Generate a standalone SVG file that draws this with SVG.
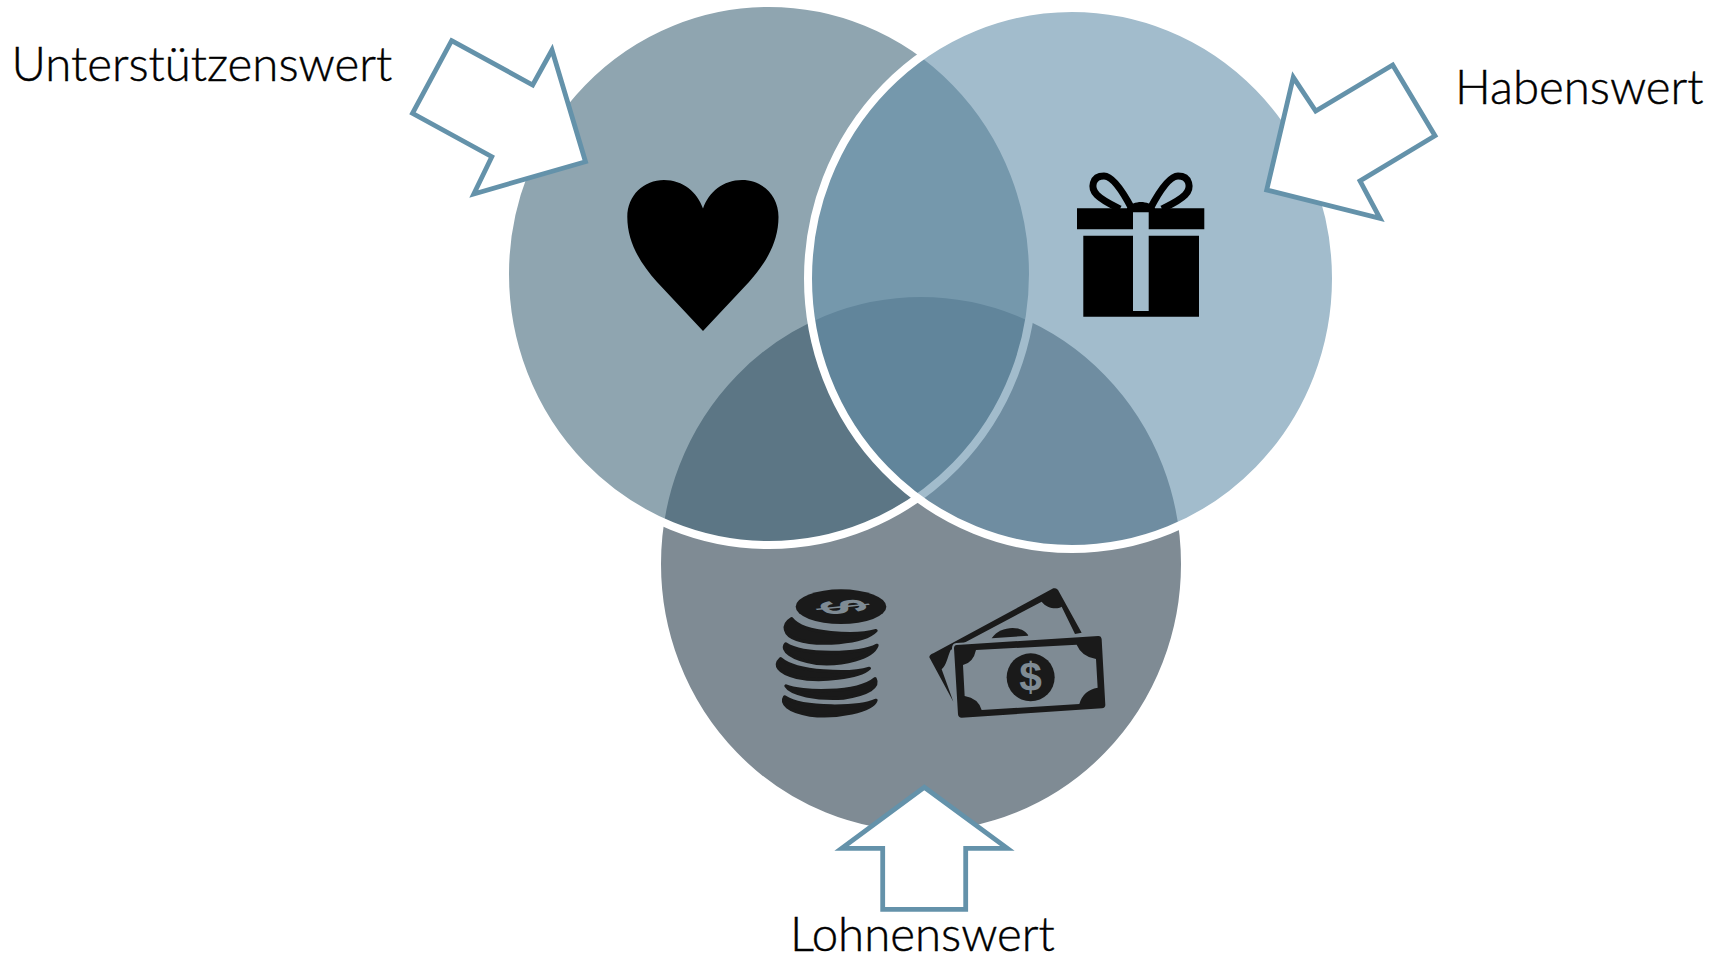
<svg xmlns="http://www.w3.org/2000/svg" width="1719" height="955" viewBox="0 0 1719 955">
<style>
.lbl{font-family:"Lato","Liberation Sans",sans-serif;font-weight:300;font-size:47.400px;fill:#000;stroke:#000;stroke-width:.45}
.arrow{fill:#fff;stroke:#6492aa;stroke-width:4.800;stroke-miterlimit:10}
.circ{stroke:#fff;stroke-width:8}
.ink{fill:#1a1a1a}
.coin{fill:#1a1a1a;stroke:#1a1a1a;stroke-width:10;stroke-linejoin:round}
.sym{font-family:"Liberation Sans",sans-serif;font-weight:700;fill:#7f8b94;text-anchor:middle}
</style>
<rect width="1719" height="955" fill="#fff"/>
<g id="circle-lohnen"><ellipse class="circ" cx="921" cy="564" rx="264" ry="271" fill="#7f8b94"/></g>
<g id="circle-unterstuetzen"><ellipse class="circ" cx="769" cy="274" rx="264" ry="271" fill="#44697b" fill-opacity="0.6"/></g>
<g id="circle-haben"><ellipse class="circ" cx="1072" cy="278.500" rx="264" ry="270.500" fill="#648faa" fill-opacity="0.6"/></g>
<g id="icon-heart"><path d="M703 331L657 282C641 264 627.300 243 627.300 217C627.300 195 644 180 664 180C683 180 697 192 703 208.500C709 192 723 180 742 180C762 180 778.500 195 778.500 217C778.500 243 765 264 749 282Z" fill="#000"/></g>
<g id="icon-gift">
<path d="M1077 208.300H1127C1130 204 1136 202 1141 202C1146 202 1152 204 1155 208.300H1204.300V229.300H1148.700V212.300H1133V229.300H1077ZM1083.300 235.700H1133V311H1148.700V235.700H1199V316.700H1083.300Z" fill="#000"/>
<path d="M1132 209C1122 190 1112 176 1104 176C1092 176 1090 188 1097 195C1103 201 1114 206 1120 209M1150 209C1160 190 1170 176 1178 176C1190 176 1192 188 1185 195C1179 201 1168 206 1162 209" fill="none" stroke="#000" stroke-width="7"/>
</g>
<g id="icon-coins" transform="translate(760 570) scale(.33333)">
<ellipse class="ink" cx="243" cy="110" rx="136" ry="52"/>
<text class="sym" transform="translate(247 110) scale(1.650 .6) rotate(75)" x="0" y="40" font-size="122">$</text>
<path class="coin" d="M95 146C64 165 72 195 110 208C170 228 310 222 348 182C290 198 130 193 95 146Z"/>
<path class="coin" d="M77 222C62 240 92 268 170 280C250 287 338 263 351 226C300 253 130 258 77 222Z"/>
<path class="coin" d="M62 266C42 285 52 308 110 322C180 337 298 323 328 295C270 313 110 308 62 266Z"/>
<path class="coin" d="M78 348C120 367 290 372 345 326C358 350 328 372 250 384C170 389 92 373 78 348Z"/>
<path class="coin" d="M74 381C62 400 82 423 150 435C230 445 338 423 348 391C300 413 130 418 74 381Z"/>
</g>
<g id="icon-cash" transform="translate(760 570) scale(.33333)">
<path class="ink" d="M520 250L880 55Q892 52 897 65L965 188L945 192L905 110C890 120 860 115 845 95L572 240C562 262 560 285 545 298L580 395L508 262Q508 254 520 250Z"/>
<path class="ink" d="M695 205C720 165 790 165 805 197Z"/>
<path d="M590 225L1015 198Q1024 198 1025 208L1036 405Q1036 414 1026 415L605 443Q595 443 594 433L582 235Q582 226 590 225Z" fill="#7f8b94" stroke="#7f8b94" stroke-width="12"/>
<path class="ink" fill-rule="evenodd" d="M590 225L1015 198Q1024 198 1025 208L1036 405Q1036 414 1026 415L605 443Q595 443 594 433L582 235Q582 226 590 225ZM609 285Q640 278 648 240L950 224Q965 260 1008 267L1013 353Q970 360 958 402L665 420Q655 385 614 378Z"/>
<circle class="ink" cx="812" cy="322" r="72"/>
<text class="sym" x="812" y="362" font-size="122">$</text>
</g>
<g id="connectors">
<polygon class="arrow" points="451.600,40.700 532.700,85 552,50 585.500,161.700 473.800,194 491.800,156.700 412.500,113.300"/>
<polygon class="arrow" points="1392.700,65 1435,135.700 1360,181 1380,218.300 1266.700,190 1293.300,77.300 1315.700,111"/>
<polygon class="arrow" points="924.300,787.300 1007.300,848.300 965.700,848.300 965.700,909.300 882.700,909.300 882.700,848.300 841.700,848.300"/>
</g>
<g id="label-unterstuetzen"><text class="lbl" x="11.500" y="81">Unterstützenswert</text></g>
<g id="label-haben"><text class="lbl" x="1455" y="104">Habenswert</text></g>
<g id="label-lohnen"><text class="lbl" x="790" y="951">Lohnenswert</text></g>
</svg>
